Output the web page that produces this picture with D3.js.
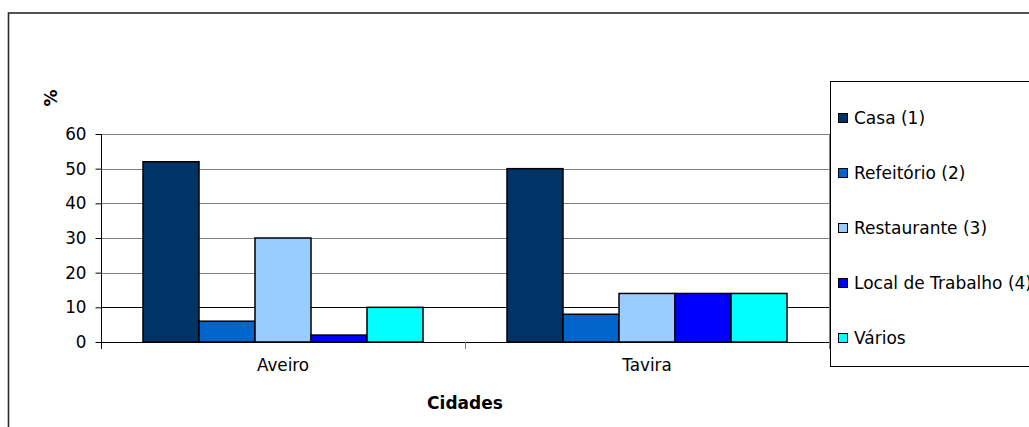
<!DOCTYPE html>
<html>
<head>
<meta charset="utf-8">
<script src="https://cdn.jsdelivr.net/npm/d3@7"></script>
<style>
  body { margin: 0; background: #fff; }
  text { font-family: "DejaVu Sans", Verdana, sans-serif; fill: #000; }
</style>
</head>
<body>
<div id="chart"></div>
<script>
var w = 1029,
    h = 427;

// data
var cities = ["Aveiro", "Tavira"];
var series = ["Casa (1)", "Refeitório (2)", "Restaurante (3)", "Local de Trabalho (4)", "Vários"];
var colors = ["#003366", "#0066cc", "#99ccff", "#0000ff", "#00ffff"];
var aveiro = [52, 6, 30, 2, 10];
var tavira = [50, 8, 14, 14, 14];
var yTicks = [0, 10, 20, 30, 40, 50, 60];

var values = { "Aveiro": aveiro, "Tavira": tavira };

var plotLeft = 101, plotRight = 829, plotTop = 134, plotBottom = 342;

var svg = d3.select("#chart")
    .append("svg")
    .attr("width", w)
    .attr("height", h);

// outer frame (runs off the picture at right and bottom)
svg.append("rect")
    .attr("x", 8.5)
    .attr("y", 13)
    .attr("width", 1040)
    .attr("height", 440)
    .style("fill", "none")
    .style("stroke", "#2a2a2a")
    .style("stroke-width", 1.6);

var x0 = d3.scaleBand().domain(cities).range([plotLeft, plotRight]).padding(0);
var x1 = d3.scaleBand().domain(series).range([42, x0.bandwidth() - 42]).padding(0);
var y = d3.scaleLinear().domain([0, 60]).range([plotBottom, plotTop]);

// gridlines
svg.append("g")
    .selectAll("line")
    .data(yTicks.filter(function (d) { return d > 0; }))
    .enter()
    .append("line")
    .attr("x1", plotLeft)
    .attr("x2", plotRight)
    .attr("y1", function (d) { return Math.round(y(d)) + 0.5; })
    .attr("y2", function (d) { return Math.round(y(d)) + 0.5; })
    .style("stroke", function (d) { return d == 10 ? "#000" : "#808080"; })
    .style("stroke-width", 1);

// right edge of the plot area
svg.append("line")
    .attr("x1", plotRight + 0.5)
    .attr("x2", plotRight + 0.5)
    .attr("y1", plotTop)
    .attr("y2", plotBottom)
    .style("stroke", "#808080");

// bars
var groups = svg.append("g")
    .selectAll("g")
    .data(cities)
    .enter()
    .append("g")
    .attr("transform", function (d) { return "translate(" + x0(d) + ",0)"; });

groups.selectAll("rect")
    .data(function (c) { return values[c].map(function (v, i) { return { s: series[i], v: v, i: i }; }); })
    .enter()
    .append("rect")
    .attr("x", function (d) { return x1(d.s); })
    .attr("y", function (d) { return y(d.v); })
    .attr("width", x1.bandwidth())
    .attr("height", function (d) { return plotBottom - y(d.v); })
    .style("fill", function (d) { return colors[d.i]; })
    .style("stroke", "#000")
    .style("stroke-width", 1.5);

// y axis
var yAxis = d3.axisLeft(y).tickValues(yTicks).tickSize(6).tickPadding(9);
var gy = svg.append("g")
    .attr("transform", "translate(" + (plotLeft + 0.5) + ",0)")
    .call(yAxis);
gy.select(".domain").attr("d", "M0," + plotTop + "V" + (plotBottom + 0.5)).style("stroke", "#000");
gy.selectAll(".tick line").style("stroke", "#000");
gy.selectAll(".tick text")
    .style("font-family", "DejaVu Sans, Verdana, sans-serif")
    .style("font-size", "16.8px")
    .style("fill", "#000");

// x axis
var xAxis = d3.axisBottom(x0).tickSize(0).tickPadding(17);
var gx = svg.append("g")
    .attr("transform", "translate(0," + (plotBottom + 0.5) + ")")
    .call(xAxis);
gx.select(".domain").attr("d", "M" + plotLeft + ",0H" + plotRight).style("stroke", "#000");
gx.selectAll(".tick text")
    .style("font-family", "DejaVu Sans, Verdana, sans-serif")
    .style("font-size", "16.8px")
    .style("fill", "#000");

// category separator ticks
svg.append("g")
    .selectAll("line")
    .data([plotLeft, x0("Tavira"), plotRight])
    .enter()
    .append("line")
    .attr("x1", function (d) { return d + 0.5; })
    .attr("x2", function (d) { return d + 0.5; })
    .attr("y1", plotBottom)
    .attr("y2", plotBottom + 7)
    .style("stroke", function (d, i) { return i == 0 ? "#000" : "#808080"; });

// axis titles
svg.append("text")
    .attr("x", (plotLeft + plotRight) / 2)
    .attr("y", 409)
    .attr("text-anchor", "middle")
    .style("font-size", "17px")
    .style("font-weight", "bold")
    .text("Cidades");

svg.append("text")
    .attr("transform", "translate(57,98) rotate(-90)")
    .attr("text-anchor", "middle")
    .style("font-size", "17px")
    .style("font-weight", "bold")
    .text("%");

// legend
var lg = svg.append("g");
lg.append("rect")
    .attr("x", 830.5)
    .attr("y", 81.5)
    .attr("width", 220)
    .attr("height", 285)
    .style("fill", "#fff")
    .style("stroke", "#000");

var items = lg.selectAll("g.item")
    .data(series)
    .enter()
    .append("g")
    .attr("class", "item")
    .attr("transform", function (d, i) { return "translate(838," + (118 + i * 55) + ")"; });

items.append("rect")
    .attr("x", 0.5)
    .attr("y", -4.5)
    .attr("width", 9)
    .attr("height", 9)
    .style("fill", function (d, i) { return colors[i]; })
    .style("stroke", "#000");

items.append("text")
    .attr("x", 16)
    .attr("y", 6)
    .style("font-size", "17px")
    .text(function (d) { return d; });
</script>
</body>
</html>
